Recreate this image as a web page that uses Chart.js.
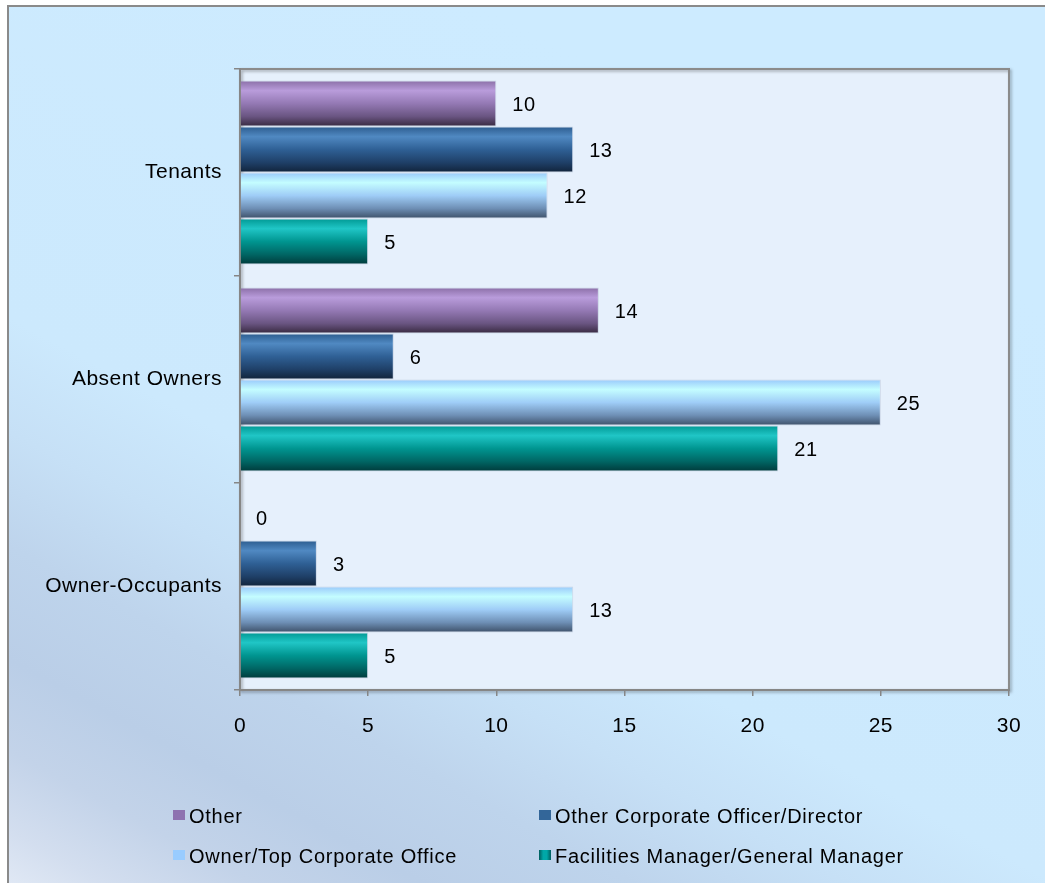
<!DOCTYPE html>
<html>
<head>
<meta charset="utf-8">
<script src="https://cdn.jsdelivr.net/npm/chart.js@4.4.1/dist/chart.umd.min.js"></script>
<style>
  html, body { margin: 0; padding: 0; background: #ffffff; }
  #wrap { position: relative; width: 1045px; height: 883px; overflow: hidden; }
  #chart { position: absolute; left: 0; top: 0; }
  #legend {
    position: absolute; left: 0; top: 0; width: 1045px; height: 883px;
    pointer-events: none;
    font-family: "Liberation Sans", Arial, sans-serif;
    font-size: 20px; letter-spacing: 0.75px; color: #000;
  }
  .item { position: absolute; height: 24px; display: flex; align-items: center; white-space: nowrap; }
  .box { width: 12px; height: 10px; margin-right: 4px; margin-top: -3px; }
</style>
</head>
<body>
<div id="wrap">
  <canvas id="chart" width="1045" height="883"></canvas>
  <div id="legend"></div>
</div>
<script>
// ---- data ----
const categories = ['Tenants', 'Absent Owners', 'Owner-Occupants'];
const seriesNames = [
  'Other',
  'Other Corporate Officer/Director',
  'Owner/Top Corporate Office',
  'Facilities Manager/General Manager'
];
const otherValues = [10, 14, 0];
const otherOfficerValues = [13, 6, 3];
const ownerTopValues = [12, 25, 13];
const facilitiesValues = [5, 21, 5];
const xTickValues = [0, 5, 10, 15, 20, 25, 30];

// ---- styles ----
const FONT = '"Liberation Sans", Arial, sans-serif';
const swatchColors = ['#8e72b0', '#336699', '#99ccff', '#008b8b'];
// vertical "cylinder" shading for each series: [offset, colour]
const barShading = [
  [[0, '#8a6ea6'], [0.22, '#b99cdb'], [0.5, '#9479b4'], [0.78, '#6a5582'], [1, '#37293f']],
  [[0, '#2c5c8e'], [0.22, '#5089c2'], [0.5, '#2f6095'], [0.78, '#1f4068'], [1, '#11233a']],
  [[0, '#99c9fb'], [0.22, '#c4fdff'], [0.5, '#9fcdf7'], [0.78, '#6e8fb5'], [1, '#3d5068']],
  [[0, '#009893'], [0.22, '#20c6c6'], [0.5, '#009590'], [0.78, '#006664'], [1, '#003a3b']]
];

const seriesValues = [otherValues, otherOfficerValues, ownerTopValues, facilitiesValues];
const datasets = seriesNames.map((name, i) => ({
  label: name,
  data: seriesValues[i],
  backgroundColor: () => swatchColors[i],
  borderColor: 'rgba(170,185,205,0.45)',
  borderWidth: 1,
  borderSkipped: 'start',
  categoryPercentage: 0.889,
  barPercentage: 1.0
}));

// background of the whole chart panel and the plot area
const panelPlugin = {
  id: 'panel',
  beforeUpdate(chart) { chart.ctx.letterSpacing = '0.5px'; },
  beforeDraw(chart) {
    const { ctx, chartArea: a } = chart;
    ctx.letterSpacing = '0.5px';
    ctx.save();
    const g = ctx.createLinearGradient(477, 0, 0, 883);
    g.addColorStop(0, '#cdebff');
    g.addColorStop(0.5, '#cce9fd');
    g.addColorStop(0.6, '#c6e0f6');
    g.addColorStop(0.7, '#bed4ec');
    g.addColorStop(0.8, '#bacee7');
    g.addColorStop(0.88, '#c3d3e9');
    g.addColorStop(0.95, '#d3deef');
    g.addColorStop(1, '#e1e9f5');
    ctx.fillStyle = g;
    ctx.fillRect(8, 6, 1045, 883);
    ctx.strokeStyle = '#8a8a8a';
    ctx.lineWidth = 2;
    ctx.beginPath();
    ctx.moveTo(8, 883); ctx.lineTo(8, 6); ctx.lineTo(1045, 6);
    ctx.stroke();
    // plot area
    ctx.fillStyle = '#e6f0fc';
    ctx.fillRect(a.left, a.top, a.width, a.height);
    ctx.shadowColor = 'rgba(0,0,0,0.35)';
    ctx.shadowBlur = 3;
    ctx.shadowOffsetX = 1.5;
    ctx.shadowOffsetY = 1.5;
    ctx.strokeStyle = '#8b8b8b';
    ctx.lineWidth = 2;
    ctx.strokeRect(a.left, a.top, a.width, a.height);
    ctx.restore();
  }
};

// give each bar its own vertical shading
const shadingPlugin = {
  id: 'shading',
  afterDatasetsUpdate(chart) {
    const ctx = chart.ctx;
    chart.data.datasets.forEach((ds, di) => {
      const meta = chart.getDatasetMeta(di);
      meta.data.forEach(el => {
        if (el.y == null || !el.height) return;
        const top = el.y - el.height / 2;
        const g = ctx.createLinearGradient(0, top, 0, top + el.height);
        barShading[di].forEach(([o, c]) => g.addColorStop(o, c));
        el.options.backgroundColor = g;
      });
    });
  }
};

// value written after the end of each bar
const valueLabelPlugin = {
  id: 'valueLabels',
  afterDatasetsDraw(chart) {
    const ctx = chart.ctx;
    ctx.save();
    ctx.font = '20px ' + FONT;
    ctx.fillStyle = '#000';
    ctx.textAlign = 'left';
    ctx.textBaseline = 'middle';
    chart.data.datasets.forEach((ds, di) => {
      const meta = chart.getDatasetMeta(di);
      meta.data.forEach((el, i) => {
        ctx.fillText(String(ds.data[i]), el.x + 16, el.y + 2);
      });
    });
    ctx.restore();
  }
};

const chart = new Chart(document.getElementById('chart'), {
  type: 'bar',
  data: { labels: categories, datasets },
  options: {
    indexAxis: 'y',
    responsive: false,
    animation: false,
    events: [],
    layout: { padding: { left: 0, top: 69, right: 36, bottom: 0 } },
    plugins: { legend: { display: false }, tooltip: { enabled: false } },
    scales: {
      x: {
        min: 0, max: 30,
        afterBuildTicks: s => { s.ticks = xTickValues.map(v => ({ value: v })); },
        afterFit: s => { s.height = 193; },
        grid: { drawOnChartArea: false, drawTicks: true, tickLength: 6, color: '#868686', lineWidth: 1.5 },
        border: { display: true, color: '#868686', width: 2 },
        ticks: { padding: 18, color: '#000', font: { family: FONT, size: 21 }, maxRotation: 0 }
      },
      y: {
        afterFit: s => { s.width = 240; },
        grid: { drawOnChartArea: false, drawTicks: true, tickLength: 6, color: '#868686', lineWidth: 1.5, offset: true },
        border: { display: true, color: '#868686', width: 2 },
        ticks: { padding: 12, color: '#000', font: { family: FONT, size: 21 } }
      }
    }
  },
  plugins: [panelPlugin, shadingPlugin, valueLabelPlugin]
});

// two-column legend built from the chart's datasets
const legendPos = [[173, 804], [539, 804], [173, 844], [539, 844]];
const legendEl = document.getElementById('legend');
chart.data.datasets.forEach((ds, i) => {
  const item = document.createElement('div');
  item.className = 'item';
  item.style.left = legendPos[i][0] + 'px';
  item.style.top = legendPos[i][1] + 'px';
  const box = document.createElement('span');
  box.className = 'box';
  box.style.background = i === 3
    ? 'linear-gradient(to right, #005d5d, #00a8a8 35%, #00a8a8 65%, #005d5d)'
    : swatchColors[i];
  const txt = document.createElement('span');
  txt.textContent = ds.label;
  item.appendChild(box);
  item.appendChild(txt);
  legendEl.appendChild(item);
});
</script>
</body>
</html>
